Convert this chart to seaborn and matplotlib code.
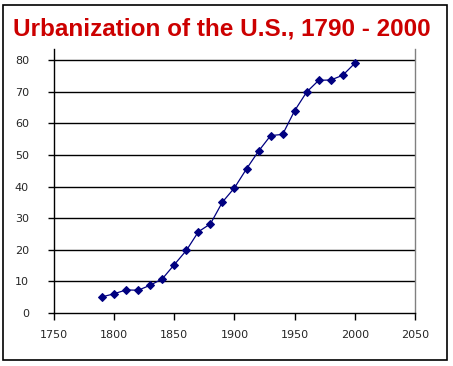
import matplotlib
matplotlib.use("Agg")
import matplotlib.pyplot as plt
import seaborn as sns
import pandas as pd
from matplotlib.patches import Rectangle

# data: percent of population living in urban areas
years = [1790, 1800, 1810, 1820, 1830, 1840, 1850, 1860, 1870, 1880, 1890,
         1900, 1910, 1920, 1930, 1940, 1950, 1960, 1970, 1980, 1990, 2000]
urban_pct = [5.1, 6.1, 7.3, 7.2, 8.8, 10.8, 15.3, 19.8, 25.7, 28.2, 35.1,
             39.6, 45.6, 51.2, 56.1, 56.5, 64.0, 69.9, 73.6, 73.7, 75.2, 79.0]
x_ticks = [1750, 1800, 1850, 1900, 1950, 2000, 2050]
y_ticks = [0, 10, 20, 30, 40, 50, 60, 70, 80]

df = pd.DataFrame({"year": years, "urban": urban_pct})

sns.set_style("white")
plt.rcParams["font.family"] = ["Liberation Sans", "DejaVu Sans"]

fig = plt.figure(figsize=(4.53, 3.66), dpi=100)
ax = fig.add_axes([0.1192, 0.1448, 0.7969, 0.7213])

sns.lineplot(data=df, x="year", y="urban", ax=ax, color="#000080",
             linewidth=0.9, marker="D", markersize=4.5,
             markeredgecolor="#000080", markerfacecolor="#000080")

ax.set_xlim(1750, 2050)
ax.set_ylim(0, 83.5)
ax.set_xticks(x_ticks)
ax.set_yticks(y_ticks)
ax.set_xlabel("")
ax.set_ylabel("")

# horizontal gridlines like the old spreadsheet chart
for v in y_ticks[1:]:
    ax.axhline(v, color="black", linewidth=1, zorder=0)

for side in ["left", "bottom"]:
    ax.spines[side].set_color("black")
    ax.spines[side].set_linewidth(1)
ax.spines["top"].set_visible(False)
ax.spines["right"].set_color("#808080")
ax.spines["right"].set_linewidth(1)

ax.tick_params(axis="both", direction="out", length=5, width=1,
               color="black", labelsize=8.5, pad=7)
ax.tick_params(axis="y", length=4, pad=14)
ax.tick_params(left=True, bottom=True)
for lbl in ax.get_xticklabels() + ax.get_yticklabels():
    lbl.set_fontfamily("DejaVu Sans")
    lbl.set_fontsize(8)

fig.text(0.49, 0.922, "Urbanization of the U.S., 1790 - 2000",
         ha="center", va="center", color="#CC0000", fontsize=17.5,
         fontweight="bold")

# outer chart frame
fig.patches.append(Rectangle((3 / 453, 6 / 366), 444 / 453, 355 / 366,
                             transform=fig.transFigure, fill=False,
                             edgecolor="black", linewidth=1.2))

fig.savefig("out.png", dpi=100)
